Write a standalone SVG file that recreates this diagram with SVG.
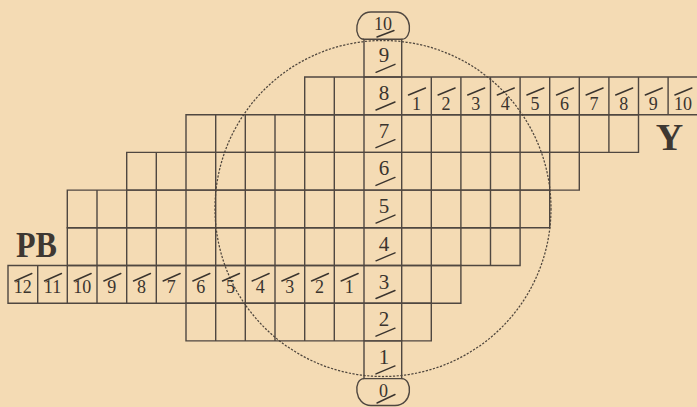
<svg xmlns="http://www.w3.org/2000/svg" width="697" height="407" viewBox="0 0 697 407">
<style>
.g{fill:none;stroke:#4f4740;stroke-width:1.4}
.n{font-family:"Liberation Serif",serif;fill:#3a342e;text-anchor:middle}
.c{font-size:21px}
.r{font-size:18px}
.s{stroke:#3a342e;stroke-width:1.4;stroke-linecap:round;fill:none}
.b{font-family:"Liberation Serif",serif;font-weight:bold;fill:#3e3832}
</style>
<rect width="697" height="407" fill="#f4dbb4"/>
<g id="grid" class="g">
<path d="M364,39.3H401.7V77H364Z"/>
<path d="M304.7,77H697.7V114.7H304.7Z M334.3,77V114.7M364,77V114.7M401.7,77V114.7M431.3,77V114.7M460.9,77V114.7M490.5,77V114.7M520.1,77V114.7M549.7,77V114.7M579.3,77V114.7M608.9,77V114.7M638.5,77V114.7M668.1,77V114.7"/>
<path d="M186,114.7H638.5V152.4H186Z M215.7,114.7V152.4M245.3,114.7V152.4M275,114.7V152.4M304.7,114.7V152.4M334.3,114.7V152.4M364,114.7V152.4M401.7,114.7V152.4M431.3,114.7V152.4M460.9,114.7V152.4M490.5,114.7V152.4M520.1,114.7V152.4M549.7,114.7V152.4M579.3,114.7V152.4M608.9,114.7V152.4"/>
<path d="M126.7,152.4H579.3V190.1H126.7Z M156.3,152.4V190.1M186,152.4V190.1M215.7,152.4V190.1M245.3,152.4V190.1M275,152.4V190.1M304.7,152.4V190.1M334.3,152.4V190.1M364,152.4V190.1M401.7,152.4V190.1M431.3,152.4V190.1M460.9,152.4V190.1M490.5,152.4V190.1M520.1,152.4V190.1M549.7,152.4V190.1"/>
<path d="M67.3,190.1H549.7V227.8H67.3Z M97,190.1V227.8M126.7,190.1V227.8M156.3,190.1V227.8M186,190.1V227.8M215.7,190.1V227.8M245.3,190.1V227.8M275,190.1V227.8M304.7,190.1V227.8M334.3,190.1V227.8M364,190.1V227.8M401.7,190.1V227.8M431.3,190.1V227.8M460.9,190.1V227.8M490.5,190.1V227.8M520.1,190.1V227.8"/>
<path d="M67.3,227.8H520.1V265.5H67.3Z M97,227.8V265.5M126.7,227.8V265.5M156.3,227.8V265.5M186,227.8V265.5M215.7,227.8V265.5M245.3,227.8V265.5M275,227.8V265.5M304.7,227.8V265.5M334.3,227.8V265.5M364,227.8V265.5M401.7,227.8V265.5M431.3,227.8V265.5M460.9,227.8V265.5M490.5,227.8V265.5"/>
<path d="M8,265.5H460.9V303.2H8Z M37.7,265.5V303.2M67.3,265.5V303.2M97,265.5V303.2M126.7,265.5V303.2M156.3,265.5V303.2M186,265.5V303.2M215.7,265.5V303.2M245.3,265.5V303.2M275,265.5V303.2M304.7,265.5V303.2M334.3,265.5V303.2M364,265.5V303.2M401.7,265.5V303.2M431.3,265.5V303.2"/>
<path d="M186,303.2H431.3V340.9H186Z M215.7,303.2V340.9M245.3,303.2V340.9M275,303.2V340.9M304.7,303.2V340.9M334.3,303.2V340.9M364,303.2V340.9M401.7,303.2V340.9"/>
<path d="M364,340.9H401.7V378.6H364Z"/>
<path d="M364,39.3C353,39.3 354,12 371,12H395C413,12 413,39.3 401.7,39.3"/>
<path d="M364,378.6C353,378.6 354,405.5 371,405.5H395C413,405.5 413,378.6 401.7,378.6"/>
</g>
<circle id="circle" cx="383" cy="208.5" r="168" fill="none" stroke="#4f463d" stroke-width="1.25" stroke-dasharray="2.2 1.5"/>
<g id="vertical-axis">
<g id="v10"><text class="n r" x="383" y="30">10</text><line class="s" x1="377" y1="37" x2="394" y2="30.5"/></g>
<g id="v9"><text class="n c" x="384" y="62.3">9</text><line class="s" x1="376" y1="72.3" x2="395" y2="64.3"/></g>
<g id="v8"><text class="n c" x="384" y="100">8</text><line class="s" x1="376" y1="110" x2="395" y2="102"/></g>
<g id="v7"><text class="n c" x="384" y="137.7">7</text><line class="s" x1="376" y1="147.7" x2="395" y2="139.7"/></g>
<g id="v6"><text class="n c" x="384" y="175.4">6</text><line class="s" x1="376" y1="185.4" x2="395" y2="177.4"/></g>
<g id="v5"><text class="n c" x="384" y="213.1">5</text><line class="s" x1="376" y1="223.1" x2="395" y2="215.1"/></g>
<g id="v4"><text class="n c" x="384" y="250.8">4</text><line class="s" x1="376" y1="260.8" x2="395" y2="252.8"/></g>
<g id="v3"><text class="n c" x="384" y="288.5">3</text><line class="s" x1="376" y1="298.5" x2="395" y2="290.5"/></g>
<g id="v2"><text class="n c" x="384" y="326.2">2</text><line class="s" x1="376" y1="336.2" x2="395" y2="328.2"/></g>
<g id="v1"><text class="n c" x="384" y="363.9">1</text><line class="s" x1="376" y1="373.9" x2="395" y2="365.9"/></g>
<g id="v0"><text class="n r" x="383.5" y="397">0</text><line class="s" x1="377" y1="403" x2="395" y2="394.5"/></g>
</g>
<g id="y-axis">
<g id="y1"><text class="n r" x="416.5" y="110">1</text><line class="s" x1="408.5" y1="95" x2="425.5" y2="88"/></g>
<g id="y2"><text class="n r" x="446.1" y="110">2</text><line class="s" x1="438.1" y1="95" x2="455.1" y2="88"/></g>
<g id="y3"><text class="n r" x="475.7" y="110">3</text><line class="s" x1="467.7" y1="95" x2="484.7" y2="88"/></g>
<g id="y4"><text class="n r" x="505.3" y="110">4</text><line class="s" x1="497.3" y1="95" x2="514.3" y2="88"/></g>
<g id="y5"><text class="n r" x="534.9" y="110">5</text><line class="s" x1="526.9" y1="95" x2="543.9" y2="88"/></g>
<g id="y6"><text class="n r" x="564.5" y="110">6</text><line class="s" x1="556.5" y1="95" x2="573.5" y2="88"/></g>
<g id="y7"><text class="n r" x="594.1" y="110">7</text><line class="s" x1="586.1" y1="95" x2="603.1" y2="88"/></g>
<g id="y8"><text class="n r" x="623.7" y="110">8</text><line class="s" x1="615.7" y1="95" x2="632.7" y2="88"/></g>
<g id="y9"><text class="n r" x="653.3" y="110">9</text><line class="s" x1="645.3" y1="95" x2="662.3" y2="88"/></g>
<g id="y10"><text class="n r" x="682.9" y="110">10</text><line class="s" x1="674.9" y1="95" x2="691.9" y2="88"/></g>
<text id="label-Y" class="b" x="669.5" y="150" font-size="38" text-anchor="middle">Y</text>
</g>
<g id="pb-axis">
<g id="p12"><text class="n r" x="22.85" y="293">12</text><line class="s" x1="14.85" y1="281" x2="31.85" y2="273.5"/></g>
<g id="p11"><text class="n r" x="52.5" y="293">11</text><line class="s" x1="44.5" y1="281" x2="61.5" y2="273.5"/></g>
<g id="p10"><text class="n r" x="82.15" y="293">10</text><line class="s" x1="74.15" y1="281" x2="91.15" y2="273.5"/></g>
<g id="p9"><text class="n r" x="111.85" y="293">9</text><line class="s" x1="103.85" y1="281" x2="120.85" y2="273.5"/></g>
<g id="p8"><text class="n r" x="141.5" y="293">8</text><line class="s" x1="133.5" y1="281" x2="150.5" y2="273.5"/></g>
<g id="p7"><text class="n r" x="171.15" y="293">7</text><line class="s" x1="163.15" y1="281" x2="180.15" y2="273.5"/></g>
<g id="p6"><text class="n r" x="200.85" y="293">6</text><line class="s" x1="192.85" y1="281" x2="209.85" y2="273.5"/></g>
<g id="p5"><text class="n r" x="230.5" y="293">5</text><line class="s" x1="222.5" y1="281" x2="239.5" y2="273.5"/></g>
<g id="p4"><text class="n r" x="260.15" y="293">4</text><line class="s" x1="252.15" y1="281" x2="269.15" y2="273.5"/></g>
<g id="p3"><text class="n r" x="289.85" y="293">3</text><line class="s" x1="281.85" y1="281" x2="298.85" y2="273.5"/></g>
<g id="p2"><text class="n r" x="319.5" y="293">2</text><line class="s" x1="311.5" y1="281" x2="328.5" y2="273.5"/></g>
<g id="p1"><text class="n r" x="349.15" y="293">1</text><line class="s" x1="341.15" y1="281" x2="358.15" y2="273.5"/></g>
<text id="label-PB" class="b" x="16" y="257" font-size="36" textLength="41" lengthAdjust="spacingAndGlyphs">PB</text>
</g>
</svg>
